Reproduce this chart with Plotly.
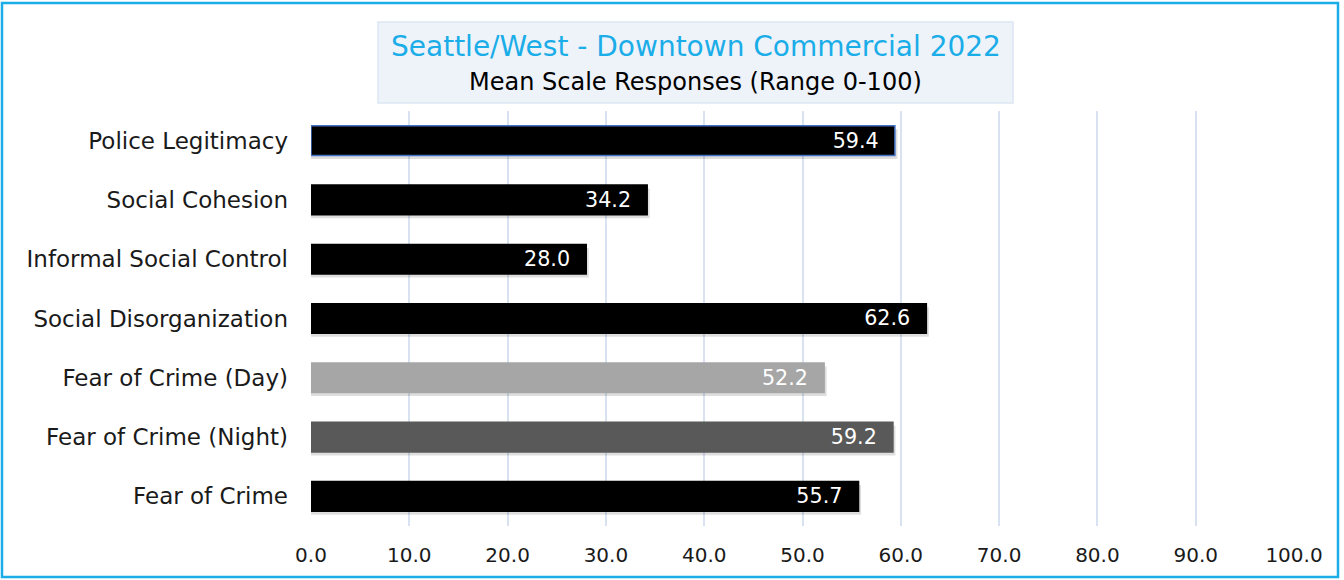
import plotly.graph_objects as go

categories = ["Police Legitimacy", "Social Cohesion", "Informal Social Control",
              "Social Disorganization", "Fear of Crime (Day)", "Fear of Crime (Night)",
              "Fear of Crime"]
values = [59.4, 34.2, 28.0, 62.6, 52.2, 59.2, 55.7]
bar_colors = ["#000000", "#000000", "#000000", "#000000", "#A6A6A6", "#595959", "#000000"]
outline_colors = ["#4472C4", "#000000", "#000000", "#000000", "#A6A6A6", "#595959", "#000000"]
tick_vals = [0, 10, 20, 30, 40, 50, 60, 70, 80, 90, 100]
tick_text = ["0.0", "10.0", "20.0", "30.0", "40.0", "50.0", "60.0", "70.0", "80.0", "90.0", "100.0"]
title_line1 = "Seattle/West - Downtown Commercial 2022"
title_line2 = "Mean Scale Responses (Range 0-100)"

FONT = "DejaVu Sans, sans-serif"
W, H = 1344, 580
L, R, T, B = 311, 50, 111, 54
pw, ph = W - L - R, H - T - B
band_px = ph / len(categories)

def px_x(x):
    return (x - L) / pw

def px_y(y):
    return (H - B - y) / ph

fig = go.Figure()
# soft drop shadow behind bars
fig.add_trace(go.Bar(
    y=categories, x=[v + 2.5 / pw * 100 for v in values], orientation="h",
    marker=dict(color="rgba(0,0,0,0.13)", line=dict(width=0)),
    width=0.5, offset=-0.25 - 3.5 / band_px,
    hoverinfo="skip",
))
fig.add_trace(go.Bar(
    y=categories, x=values, orientation="h",
    marker=dict(color=bar_colors, line=dict(color=outline_colors, width=1.5)),
    width=0.5,
    text=[f"{v:.1f}\u00a0\u00a0" for v in values],
    textposition="inside", insidetextanchor="end",
    textfont=dict(color="white", size=21, family=FONT),
    cliponaxis=False,
))

fig.update_layout(
    width=W, height=H,
    margin=dict(l=L, r=R, t=T, b=B),
    paper_bgcolor="white", plot_bgcolor="white",
    showlegend=False, barmode="overlay",
    font=dict(family=FONT, color="#1a1a1a"),
    xaxis=dict(range=[0, 100], tickvals=tick_vals, ticktext=tick_text,
               showgrid=True, gridcolor="#D9E2F0", gridwidth=1.5,
               zeroline=False, showline=False, tickfont=dict(size=20, color="#1a1a1a"),
               ticks="", ticklabelstandoff=15, fixedrange=True),
    yaxis=dict(categoryorder="array", categoryarray=categories[::-1],
               showgrid=False, zeroline=False, showline=False,
               tickfont=dict(size=23, color="#1a1a1a"), ticks="",
               ticklabelstandoff=22, fixedrange=True),
    shapes=[
        dict(type="rect", xref="paper", yref="paper",
             x0=px_x(2), x1=px_x(1338), y0=px_y(577), y1=px_y(3),
             line=dict(color="#1AADE8", width=2.5), fillcolor="rgba(0,0,0,0)", layer="below"),
        dict(type="rect", xref="paper", yref="paper",
             x0=px_x(378), x1=px_x(1013), y0=px_y(103), y1=px_y(22),
             line=dict(color="#DCE6F2", width=1.5), fillcolor="#EEF3FA", layer="above"),
    ],
    annotations=[
        dict(xref="paper", yref="paper", x=px_x(695.5), y=px_y(46),
             xanchor="center", yanchor="middle", showarrow=False,
             text=title_line1, font=dict(family=FONT, size=28, color="#1AADE8")),
        dict(xref="paper", yref="paper", x=px_x(695.5), y=px_y(82),
             xanchor="center", yanchor="middle", showarrow=False,
             text=title_line2, font=dict(family=FONT, size=24, color="#000000")),
    ],
)

fig.write_html("out.html", config={"displayModeBar": False},
               post_script="document.body.style.margin='0px';")
